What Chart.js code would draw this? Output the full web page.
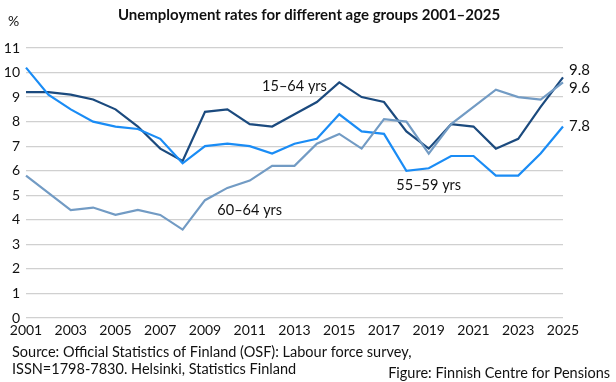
<!DOCTYPE html>
<html>
<head>
<meta charset="utf-8">
<script src="https://cdn.jsdelivr.net/npm/chart.js@4/dist/chart.umd.min.js"></script>
<style>
html,body{margin:0;padding:0;background:#fff;}
canvas{display:block;}
</style>
</head>
<body>
<canvas id="c" width="616" height="382"></canvas>
<script>
const years = [2001,2002,2003,2004,2005,2006,2007,2008,2009,2010,2011,2012,2013,2014,2015,2016,2017,2018,2019,2020,2021,2022,2023,2024,2025];
const age15_64 = [9.2,9.2,9.1,8.9,8.5,7.8,6.9,6.4,8.4,8.5,7.9,7.8,8.3,8.8,9.6,9.0,8.8,7.6,6.9,7.9,7.8,6.9,7.3,8.6,9.8];
const age55_59 = [10.2,9.1,8.5,8.0,7.8,7.7,7.3,6.3,7.0,7.1,7.0,6.7,7.1,7.3,8.3,7.6,7.5,6.0,6.1,6.6,6.6,5.8,5.8,6.7,7.8];
const age60_64 = [5.8,5.1,4.4,4.5,4.2,4.4,4.2,3.6,4.8,5.3,5.6,6.2,6.2,7.1,7.5,6.9,8.1,8.0,6.7,7.9,8.6,9.3,9.0,8.9,9.6];
const yTicks = [0,1,2,3,4,5,6,7,8,9,10,11];
const seriesNames = ["15–64 yrs","55–59 yrs","60–64 yrs"];
const endLabels = ["9.8","7.8","9.6"];

const FONT = "Lato, 'Open Sans', sans-serif";
const C_NAVY = "#1b4a7e";
const C_LIGHT = "#1a8cf5";
const C_GRAY = "#729bc4";

const textPlugin = {
  id: 'texts',
  afterDraw(chart) {
    const ctx = chart.ctx;
    const xs = chart.scales.x, ys = chart.scales.y;
    ctx.save();
    ctx.fillStyle = "#111";
    // title
    ctx.font = "bold 15px " + FONT;
    ctx.textAlign = "center"; ctx.textBaseline = "middle";
    ctx.fillText("Unemployment rates for different age groups 2001–2025", 309, 15);
    // percent
    ctx.font = "14px " + FONT;
    ctx.textAlign = "left";
    ctx.fillText("%", 8, 21);
    // series labels
    const lbl = (t, yr, v) => {
      ctx.textAlign = "center";
      ctx.fillText(t, xs.getPixelForValue(years.indexOf(yr)) , ys.getPixelForValue(v));
    };
    ctx.font = "14.5px " + FONT;
    lbl(seriesNames[0], 2013, 9.45);
    lbl(seriesNames[2], 2011, 4.4);
    lbl(seriesNames[1], 2019, 5.42);
    // end labels
    const last = years.length - 1;
    const xe = xs.getPixelForValue(last) + 6;
    ctx.textAlign = "left";
    ctx.font = "15px " + FONT;
    ctx.fillText(endLabels[0], xe, ys.getPixelForValue(age15_64[last]) - 7);
    ctx.fillText(endLabels[2], xe, ys.getPixelForValue(age60_64[last]) + 6);
    ctx.fillText(endLabels[1], xe, ys.getPixelForValue(age55_59[last]));
    // footer
    ctx.font = "14.5px " + FONT;
    ctx.textAlign = "left";
    ctx.fillText("Source: Official Statistics of Finland (OSF): Labour force survey,", 12, 352);
    ctx.fillText("ISSN=1798-7830. Helsinki, Statistics Finland", 12, 369);
    ctx.textAlign = "right";
    ctx.fillText("Figure: Finnish Centre for Pensions", 610, 373);
    ctx.restore();
  }
};

new Chart(document.getElementById('c'), {
  type: 'line',
  data: {
    labels: years.map(String),
    datasets: [
      {label: seriesNames[2], data: age60_64, borderColor: C_GRAY, borderWidth: 2.2, pointRadius: 0, tension: 0},
      {label: seriesNames[1], data: age55_59, borderColor: C_LIGHT, borderWidth: 2.2, pointRadius: 0, tension: 0},
      {label: seriesNames[0], data: age15_64, borderColor: C_NAVY, borderWidth: 2.2, pointRadius: 0, tension: 0}
    ]
  },
  options: {
    responsive: false,
    animation: false,
    layout: {padding: {left: 0, top: 48, right: 53, bottom: 0}},
    plugins: {legend: {display: false}, tooltip: {enabled: false}, title: {display: false}},
    scales: {
      x: {
        grid: {display: false, drawTicks: false},
        border: {display: false},
        ticks: {
          color: "#111", font: {family: FONT, size: 14}, padding: 4,
          maxRotation: 0, autoSkip: false,
          callback: function(v, i) { return (years[i] % 2 === 1) ? String(years[i]) : ''; }
        },
        afterFit(s) { s.height = 64; }
      },
      y: {
        min: 0, max: 11,
        grid: {color: "#d0d0d0", lineWidth: 1.3, drawTicks: false},
        border: {display: false},
        afterBuildTicks(s) { s.ticks = yTicks.map(v => ({value: v})); },
        ticks: {color: "#111", font: {family: FONT, size: 14}, padding: 6},
        afterFit(s) { s.width = 26; }
      }
    }
  },
  plugins: [textPlugin]
});
</script>
</body>
</html>
